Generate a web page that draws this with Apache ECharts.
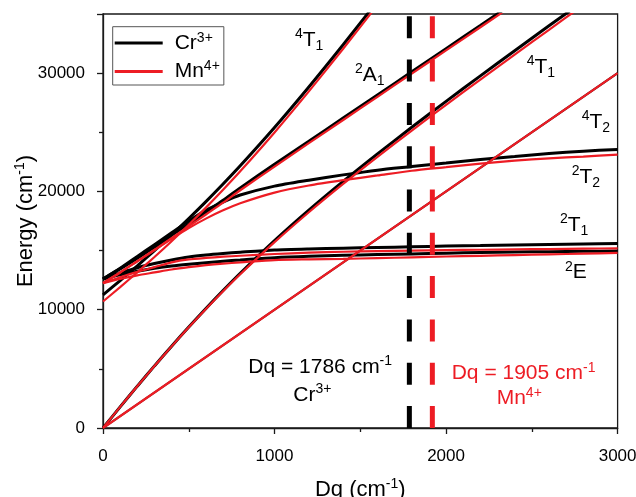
<!DOCTYPE html>
<html>
<head>
<meta charset="utf-8">
<script src="https://cdn.jsdelivr.net/npm/echarts@6/dist/echarts.min.js"></script>
<style>
html,body{margin:0;padding:0;background:#fff;}
#c{width:636px;height:497px;}
</style>
</head>
<body>
<div id="c"></div>
<script>
// ---- data ----
const dq = [0,100,200,300,400,500,600,700,800,1000,1200,1400,1600,1800,2000,2200,2400,2600,2800,3000];
const dqLine = [0, 3000];
const cr4T2 = [0, 30000];
const mn4T2 = [0, 30000];
const cr4T1F = [0,1785,3537,5250,6920,8541,10109,11623,13082,15841,18415,20846,23172,25421,27616,29771,31897,34000,36086,38159];
const mn4T1F = [0,1784,3533,5241,6902,8511,10065,11560,12997,15710,18240,20631,22924,25148,27321,29459,31571,33662,35750,37804];
const cr4T1P = [11250,12465,13713,15000,16330,17709,19141,20627,22168,25409,28835,32404,36078];
const mn4T1P = [10695,11911,13162,14454,15793,17184,18631,20136,21698,24986,28456,32064,35771];
const cr2A1 = [12600,13450,14350,15300,16300,17250,18250,19250,20300,22300,24250,26200,28150,30110,32070,34030,36000];
const mn2A1 = [12250,13150,14100,15050,16050,17050,18050,19050,20100,22100,24080,26040,28000,29960,31920,33880,35840];
const cr2T2 = [12600,13500,14500,15500,16500,17500,18400,19100,19700,20450,20950,21400,21800,22100,22400,22700,22950,23200,23400,23550];
const mn2T2 = [12250,13150,14100,15050,16000,16900,17700,18400,19000,19900,20500,20950,21350,21750,22050,22350,22600,22800,22950,23110];
const cr2T1 = [12600,13100,13550,13900,14200,14450,14620,14750,14860,15050,15140,15200,15260,15320,15380,15430,15480,15520,15560,15600];
const mn2T1 = [12250,12750,13200,13600,14000,14250,14380,14480,14560,14710,14820,14900,14950,14990,15030,15070,15100,15130,15160,15190];
const cr2E = [12600,12950,13250,13500,13700,13850,13980,14100,14200,14400,14520,14600,14660,14720,14780,14830,14870,14910,14940,14960];
const mn2E = [12250,12600,12900,13150,13400,13600,13770,13900,14000,14200,14260,14300,14360,14430,14500,14560,14620,14680,14740,14800];
const crDq = 1786;
const mnDq = 1920;
const dashSpan = [0, 35000];
const xTicks = [0, 1000, 2000, 3000];
const yTicks = [0, 10000, 20000, 30000];

// ---- styles ----
const FF = 'Liberation Sans, Arial, Helvetica, sans-serif';
const BLACK = '#000000';
const RED = '#ed1c24';

function pairs(xs, ys){ return ys.map((y,i)=>[xs[i], y]); }
function curve(name, xs, ys, color, width, z){
  return {type:'line', name:name, data:pairs(xs,ys), symbol:'none', showSymbol:false,
    smooth:0.25,
    lineStyle:{color:color, width:width}, itemStyle:{color:color}, z:z, silent:true, clip:true};
}
const series = [];
const crSets = [[dq,cr4T1F],[dq,cr4T1P],[dq,cr2A1],[dq,cr2T2],[dq,cr2T1],[dq,cr2E]];
const mnSets = [[dq,mn4T1F],[dq,mn4T1P],[dq,mn2A1],[dq,mn2T2],[dq,mn2T1],[dq,mn2E]];
series.push(curve('Cr3+', dqLine, cr4T2, BLACK, 2, 2));
crSets.forEach(s=>series.push(curve('Cr3+', s[0], s[1], BLACK, 3, 2)));
series.push(curve('Mn4+', dqLine, mn4T2, RED, 2.2, 3));
mnSets.forEach(s=>series.push(curve('Mn4+', s[0], s[1], RED, 2.2, 3)));
function vdash(x, color){
  return {type:'line', name:'dash', data:dashSpan.map(v=>[x,v]), symbol:'none', silent:true,
    lineStyle:{color:color, width:5, type:[22,21.3], cap:'butt'}, z:4};
}
series.push(vdash(crDq, BLACK));
series.push(vdash(mnDq, RED));

function R(color){
  return {
    b:{fontSize:21, lineHeight:26, fontFamily:FF, fill:color},
    p:{fontSize:14, lineHeight:11, verticalAlign:'top', fontFamily:FF, fill:color},
    d:{fontSize:14, lineHeight:16, verticalAlign:'bottom', fontFamily:FF, fill:color},
    q:{fontSize:14, lineHeight:14, verticalAlign:'top', fontFamily:FF, fill:color}
  };
}
function txt(left, top, str, color){
  return {type:'text', left:left, top:top, z:10, silent:true,
    style:{text:str, rich:R(color), fill:color, fontFamily:FF, fontSize:21}};
}

const chart = echarts.init(document.getElementById('c'), null, {renderer:'canvas'});
chart.setOption({
  animation:false,
  backgroundColor:'#fff',
  grid:{left:103, right:18.4, top:14, bottom:69, containLabel:false, outerBoundsMode:'none',
    show:true, borderColor:'#1a1a1a', borderWidth:1.3, backgroundColor:'transparent'},
  legend:{
    data:[{name:'Cr3+'},{name:'Mn4+'}],
    orient:'vertical', left:112.7, top:26.7, icon:'rect', itemWidth:48, itemHeight:3,
    itemGap:6, padding:[4.3,4,3,2], borderColor:'#555', borderWidth:1, backgroundColor:'#fff',
    selectedMode:false,
    formatter:function(n){ return n==='Cr3+' ? '{n|Cr}{s|3+}' : '{n|Mn}{s|4+}'; },
    textStyle:{fontFamily:FF, color:'#000', rich:{
      n:{fontSize:21, lineHeight:24, fontFamily:FF, color:'#000', padding:[0,0,0,7]},
      s:{fontSize:14, lineHeight:12, verticalAlign:'top', fontFamily:FF, color:'#000'}
    }}
  },
  xAxis:{
    type:'value', min:xTicks[0], max:xTicks[xTicks.length-1], interval:xTicks[1]-xTicks[0],
    name:'{b|Dq (cm}{s|-1}{b|)}', nameLocation:'middle', nameGap:49, nameMoveOverlap:false,
    nameTextStyle:{fontFamily:FF, color:'#000', rich:{
      b:{fontSize:22, lineHeight:26, fontFamily:FF, color:'#000'},
      s:{fontSize:14, lineHeight:12, verticalAlign:'top', fontFamily:FF, color:'#000'}
    }},
    axisLine:{show:true, onZero:false, lineStyle:{color:'#1a1a1a', width:1.3}},
    axisTick:{show:true, inside:false, length:6, lineStyle:{color:'#1a1a1a', width:1.3}},
    minorTick:{show:true, splitNumber:2, length:4, lineStyle:{color:'#1a1a1a', width:1.3}},
    splitLine:{show:false},
    axisLabel:{fontFamily:FF, fontSize:17, color:'#000', margin:20,
      formatter:function(v){ return String(v); }}
  },
  yAxis:{
    type:'value', min:yTicks[0], max:35000, interval:yTicks[1]-yTicks[0],
    name:'{b|Energy (cm}{s|-1}{b|)}', nameLocation:'middle', nameGap:64, nameRotate:90, nameMoveOverlap:false,
    nameTextStyle:{fontFamily:FF, color:'#000', rich:{
      b:{fontSize:22, lineHeight:26, fontFamily:FF, color:'#000'},
      s:{fontSize:14, lineHeight:12, verticalAlign:'top', fontFamily:FF, color:'#000'}
    }},
    axisLine:{show:true, onZero:false, lineStyle:{color:'#1a1a1a', width:1.3}},
    axisTick:{show:true, inside:false, length:6, lineStyle:{color:'#1a1a1a', width:1.3}},
    minorTick:{show:true, splitNumber:2, length:4, lineStyle:{color:'#1a1a1a', width:1.3}},
    splitLine:{show:false},
    axisLabel:{fontFamily:FF, fontSize:17, color:'#000', margin:18,
      formatter:function(v){ return yTicks.indexOf(v)>=0 ? String(v) : ''; }}
  },
  graphic:[
    txt(295, 27.4, '{p|4}{b|T}{d|1}', BLACK),
    txt(355, 62.4, '{p|2}{b|A}{d|1}', BLACK),
    txt(526.7, 54, '{p|4}{b|T}{d|1}', BLACK),
    txt(581.7, 109, '{p|4}{b|T}{d|2}', BLACK),
    txt(571.7, 164, '{p|2}{b|T}{d|2}', BLACK),
    txt(560, 212.4, '{p|2}{b|T}{d|1}', BLACK),
    txt(565, 259.7, '{p|2}{b|E}', BLACK),
    txt(248.3, 354, '{b|Dq = 1786 cm}{q|-1}', BLACK),
    txt(293.3, 382.4, '{b|Cr}{q|3+}', BLACK),
    txt(451.7, 360.7, '{b|Dq = 1905 cm}{q|-1}', RED),
    txt(496.7, 385.7, '{b|Mn}{p|4+}', RED)
  ],
  series:series
});
</script>
</body>
</html>
